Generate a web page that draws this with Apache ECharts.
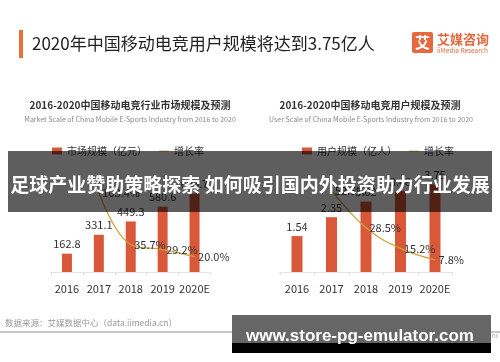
<!DOCTYPE html>
<html>
<head>
<meta charset="utf-8">
<script src="https://cdn.jsdelivr.net/npm/echarts@6/dist/echarts.min.js"></script>
<style>
html,body{margin:0;padding:0;background:#fff;}
#chart{width:500px;height:362px;}
</style>
</head>
<body>
<div id="chart"></div>
<script>
// ---- data ----
const years = ['2016', '2017', '2018', '2019', '2020E'];
const marketScale = [162.8, 331.1, 449.3, 580.6, 696.7];      // 亿元
const marketGrowth = [null, 103.4, 35.7, 29.2, 20.0];          // %
const userScale = [1.54, 2.35, 3.02, 3.48, 3.75];              // 亿人
const userGrowth = [null, 52.6, 28.5, 15.2, 7.8];              // %

const mainTitle = '2020年中国移动电竞用户规模将达到3.75亿人';
const leftTitle = '2016-2020中国移动电竞行业市场规模及预测';
const leftSub = 'Market Scale of China Mobile E-Sports Industry from 2016 to 2020';
const rightTitle = '2016-2020中国移动电竞用户规模及预测';
const rightSub = 'User Scale of China Mobile E-Sports Industry from 2016 to 2020';
const leftBarName = '市场规模（亿元）';
const rightBarName = '用户规模（亿人）';
const growthName = '增长率';
const bannerText = '足球产业赞助策略探索 如何吸引国内外投资助力行业发展';
const sourceText = '数据来源：艾媒数据中心（data.iimedia.cn）';
const watermarkText = 'www.store-pg-emulator.com';

const barColor = '#d9583a';
const lineColor = '#c9a238';
const cjk = '"Noto Sans CJK SC", "Noto Sans", sans-serif';
const linePath = 'path://M0 0H20V1.6H0Z';

const chart = echarts.init(document.getElementById('chart'), null, {renderer: 'canvas'});

function xAxisCfg(gridIndex) {
  return {
    type: 'category', gridIndex: gridIndex, data: years,
    axisLine: {lineStyle: {color: '#e2e2e2', width: 1}},
    axisTick: {show: true, length: 3, lineStyle: {color: '#e2e2e2'}},
    axisLabel: {color: '#333', fontSize: 11, margin: 11, interval: 0, fontFamily: cjk}
  };
}
function yAxisCfg(gridIndex, max) {
  return {type: 'value', gridIndex: gridIndex, min: 0, max: max, show: false, splitLine: {show: false}};
}
function lineSeries(name, xi, yi, data) {
  return {
    type: 'line', name: name, xAxisIndex: xi, yAxisIndex: yi, data: data,
    smooth: 0.4, symbol: 'circle', symbolSize: 1, connectNulls: false,
    itemStyle: {color: lineColor},
    lineStyle: {color: lineColor, width: 1.2},
    label: {show: true, position: 'right', distance: 3, color: '#333', fontSize: 11, fontFamily: cjk,
      formatter: p => p.value == null ? '' : Number(p.value).toFixed(1) + '%'},
    z: 3
  };
}
function barSeries(name, xi, yi, data, width, digits) {
  return {
    type: 'bar', name: name, xAxisIndex: xi, yAxisIndex: yi, data: data, barWidth: width,
    itemStyle: {color: barColor},
    label: {show: true, position: 'top', distance: 4, color: '#333', fontSize: 11, fontFamily: cjk,
      formatter: p => Number(p.value).toFixed(digits)},
    z: 2
  };
}

const option = {
  animation: false,
  backgroundColor: '#fff',
  grid: [
    {left: 51, top: 182, width: 159.5, height: 90},
    {left: 279.75, top: 182, width: 172.5, height: 90}
  ],
  xAxis: [xAxisCfg(0), xAxisCfg(1)],
  yAxis: [yAxisCfg(0, 800), yAxisCfg(0, 117), yAxisCfg(1, 3.86), yAxisCfg(1, 58)],
  legend: [
    {left: 47, top: 141, itemWidth: 10, itemHeight: 7, itemGap: 12, selectedMode: false,
     textStyle: {fontSize: 10, color: '#333', fontFamily: cjk},
     data: [{name: leftBarName, icon: 'rect'}, {name: growthName, icon: linePath}]},
    {left: 297, top: 141, itemWidth: 10, itemHeight: 7, itemGap: 12, selectedMode: false,
     textStyle: {fontSize: 10, color: '#333', fontFamily: cjk},
     data: [{name: rightBarName, icon: 'rect'}, {name: growthName, icon: linePath}]}
  ],
  series: [
    barSeries(leftBarName, 0, 0, marketScale, 10, 1),
    lineSeries(growthName, 0, 1, marketGrowth),
    barSeries(rightBarName, 1, 2, userScale, 11, 2),
    lineSeries(growthName, 1, 3, userGrowth)
  ],
  graphic: [
    // header
    {type: 'rect', shape: {x: 19, y: 30, width: 4, height: 28}, style: {fill: '#e8703a'}, z: 10},
    {type: 'text', x: 32, y: 44, style: {text: mainTitle, fill: '#222', font: '17px ' + cjk, textVerticalAlign: 'middle'}, z: 10},
    {type: 'rect', shape: {x: 412, y: 32, width: 21, height: 21, r: 2}, style: {fill: '#e5683f'}, z: 10},
    {type: 'text', x: 422.5, y: 42.5, style: {text: '艾', fill: '#fff', font: 'bold 15px ' + cjk, textAlign: 'center', textVerticalAlign: 'middle'}, z: 11},
    {type: 'text', x: 437, y: 39.5, style: {text: '艾媒咨询', fill: '#e5683f', font: 'bold 13px ' + cjk, textVerticalAlign: 'middle'}, z: 10},
    {type: 'text', x: 437, y: 51, style: {text: 'iiMedia Research', fill: '#e5683f', font: '6.5px ' + cjk, textVerticalAlign: 'middle'}, z: 10},
    // sub titles
    {type: 'text', x: 130, y: 105, style: {text: leftTitle, fill: '#333', font: 'bold 10px ' + cjk, textAlign: 'center', textVerticalAlign: 'middle'}, z: 10},
    {type: 'text', x: 130, y: 119, style: {text: leftSub, fill: '#888', font: '7px ' + cjk, textAlign: 'center', textVerticalAlign: 'middle'}, z: 10},
    {type: 'text', x: 370, y: 105, style: {text: rightTitle, fill: '#333', font: 'bold 10px ' + cjk, textAlign: 'center', textVerticalAlign: 'middle'}, z: 10},
    {type: 'text', x: 371, y: 119, style: {text: rightSub, fill: '#888', font: '7px ' + cjk, textAlign: 'center', textVerticalAlign: 'middle'}, z: 10},
    // footer
    {type: 'text', x: 5, y: 323, style: {text: sourceText, fill: '#999', font: '8.5px ' + cjk, textVerticalAlign: 'middle'}, z: 10},
    {type: 'line', shape: {x1: 0, y1: 332, x2: 500, y2: 332}, style: {stroke: '#b4b4b4', lineWidth: 1.5}, z: 10},
    {type: 'text', x: 499, y: 336, style: {text: 'Copyright ©2020 iiMedia Research Inc', fill: '#aaa', font: '6.5px ' + cjk, textAlign: 'right', textVerticalAlign: 'middle'}, z: 10},
    // overlay banner
    {type: 'rect', shape: {x: 8, y: 151, width: 484, height: 61}, style: {fill: 'rgba(0,0,0,0.63)'}, z: 100},
    {type: 'text', x: 250, y: 185, style: {text: bannerText, fill: '#fff', font: 'bold 19px ' + cjk, textAlign: 'center', textVerticalAlign: 'middle'}, z: 101},
    // watermark box
    {type: 'rect', shape: {x: 232, y: 315, width: 259, height: 28}, style: {fill: '#666'}, z: 100},
    {type: 'rect', shape: {x: 232, y: 343, width: 259, height: 10}, style: {fill: '#000'}, z: 100},
    {type: 'text', x: 360, y: 336, style: {text: watermarkText, fill: '#fff', font: 'bold 17px "Liberation Sans", Arial, sans-serif', textAlign: 'center', textVerticalAlign: 'middle'}, z: 101}
  ]
};
chart.setOption(option);
</script>
</body>
</html>
